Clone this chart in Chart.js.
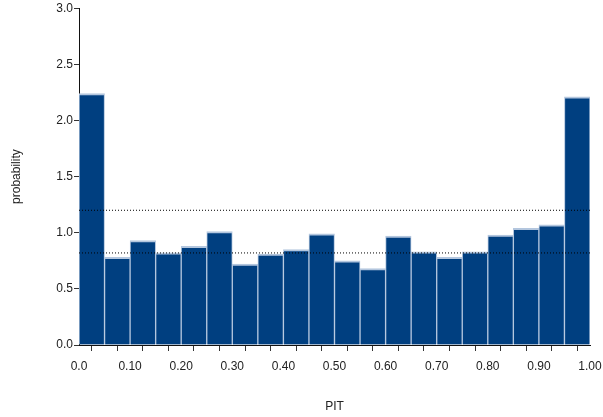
<!DOCTYPE html>
<html><head><meta charset="utf-8">
<script src="https://cdn.jsdelivr.net/npm/chart.js@4"></script>
<style>html,body{margin:0;padding:0;background:#fff}#wrap{width:603px;height:417px}</style>
</head><body><div id="wrap"><canvas id="c" width="603" height="417"></canvas></div>
<script>
const binCenters = [0.025,0.075,0.125,0.175,0.225,0.275,0.325,0.375,0.425,0.475,0.525,0.575,0.625,0.675,0.725,0.775,0.825,0.875,0.925,0.975];
const probability = [2.24,0.78,0.93,0.82,0.88,1.01,0.72,0.81,0.85,0.99,0.75,0.68,0.97,0.83,0.78,0.83,0.98,1.04,1.07,2.21];
const upperBound = 1.20;
const lowerBound = 0.82;
const xTickValues = [0,0.05,0.1,0.15,0.2,0.25,0.3,0.35,0.4,0.45,0.5,0.55,0.6,0.65,0.7,0.75,0.8,0.85,0.9,0.95,1.0];
const xTickLabels = {"0":"0.0","0.1":"0.10","0.2":"0.20","0.3":"0.30","0.4":"0.40","0.5":"0.50","0.6":"0.60","0.7":"0.70","0.8":"0.80","0.9":"0.90","1":"1.00"};

Chart.defaults.font.family = '"Liberation Sans", Arial, sans-serif';
Chart.defaults.font.size = 12;
Chart.defaults.color = '#222';

new Chart(document.getElementById('c'), {
  type: 'bar',
  data: {
    datasets: [
      {
        type: 'bar',
        data: binCenters.map((x,i)=>({x:x,y:probability[i]})),
        backgroundColor: '#003f80',
        borderColor: '#b3c6de',
        borderWidth: {top:2,left:1,right:1,bottom:0},
        borderSkipped: false,
        barPercentage: 1,
        categoryPercentage: 1,
        order: 2
      },
      {
        type: 'line',
        data: [{x:0,y:upperBound},{x:1,y:upperBound}],
        borderColor: '#000',
        borderWidth: 1,
        borderDash: [1,2],
        pointRadius: 0,
        order: 1
      },
      {
        type: 'line',
        data: [{x:0,y:lowerBound},{x:1,y:lowerBound}],
        borderColor: '#000',
        borderWidth: 1,
        borderDash: [1,2],
        pointRadius: 0,
        order: 1
      }
    ]
  },
  options: {
    responsive: false,
    animation: false,
    layout: {padding: {top: 6, right: 13, left: 0, bottom: 0}},
    plugins: {legend: {display: false}, tooltip: {enabled: false}},
    scales: {
      x: {
        type: 'linear',
        min: 0, max: 1,
        offset: false,
        afterBuildTicks: s => { s.ticks = xTickValues.map(v=>({value:v})); },
        afterFit: s => { s.height = 72; s.paddingRight = 0; s.paddingLeft = 0; },
        ticks: {
          autoSkip: false, maxRotation: 0,
          padding: 8,
          callback: v => { const k = String(Math.round(v*100)/100); return xTickLabels[k] !== undefined ? xTickLabels[k] : ''; }
        },
        grid: {drawOnChartArea: false, drawTicks: true, tickLength: 6, color: '#333'},
        border: {display: true, color: '#111', width: 1},
        title: {display: true, text: 'PIT', padding: {top: 0, bottom: 3}, color: '#222'}
      },
      y: {
        min: 0, max: 3,
        afterFit: s => { s.width = 79; },
        ticks: {stepSize: 0.5, padding: 1, callback: v => v.toFixed(1)},
        grid: {drawOnChartArea: false, drawTicks: true, tickLength: 5, color: '#333'},
        border: {display: true, color: '#111', width: 1},
        title: {display: true, text: 'probability', padding: {top: 9, bottom: 0}, color: '#222'}
      }
    }
  }
});
</script>
</body></html>
